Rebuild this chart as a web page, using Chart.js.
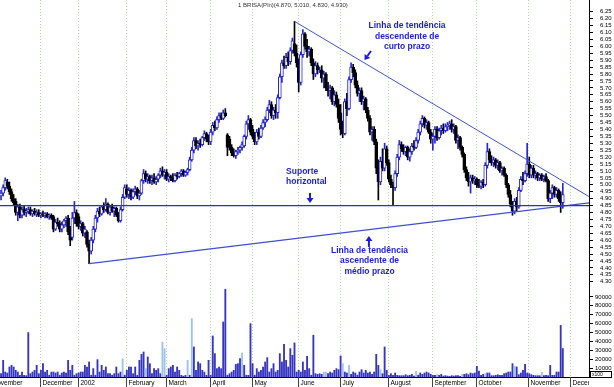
<!DOCTYPE html>
<html>
<head>
<meta charset="utf-8">
<script src="https://cdn.jsdelivr.net/npm/chart.js@4.4.1/dist/chart.umd.min.js"></script>
<style>
  html, body { margin: 0; padding: 0; background: #fff; }
  #wrap { position: relative; width: 614px; height: 387px; overflow: hidden; }
  #chart-price { position: absolute; left: 0; top: 0; }
  #chart-volume { position: absolute; left: 0; top: 288px; }
</style>
</head>
<body>
<div id="wrap">
  <canvas id="chart-price" width="614" height="288"></canvas>
  <canvas id="chart-volume" width="614" height="99"></canvas>
</div>
<script>
// daily BRISA quotes, Nov 2001 -> Nov 2002 (one entry per trading day)
const opens = [
  4.92,4.94,4.98,5.02,4.99,4.95,4.90,4.88,4.80,4.84,4.78,4.82,4.80,4.81,4.82,4.79,4.81,4.79,4.80,
  4.78,4.79,4.78,4.79,4.77,4.78,4.77,4.68,4.73,4.72,4.68,4.71,4.74,4.76,4.66,4.62,4.76,4.80,
  4.77,4.70,4.72,4.65,4.66,4.57,4.52,4.60,4.68,4.76,4.81,4.79,4.84,4.82,4.86,4.80,4.84,4.81,4.83,4.78,4.74,4.82,4.91,
  4.97,4.93,4.96,4.91,4.95,4.97,4.92,4.94,5.03,5.08,5.04,5.06,5.03,5.05,5.02,5.04,5.07,5.10,5.07,
  5.09,5.04,5.06,5.05,5.03,5.07,5.06,5.08,5.10,5.07,5.09,5.11,5.18,5.25,5.32,5.28,5.30,5.29,5.34,5.37,5.33,
  5.31,5.38,5.43,5.41,5.47,5.50,5.48,5.52,5.36,5.33,5.27,5.23,5.21,5.24,5.25,5.27,5.28,5.35,5.44,5.47,
  5.40,5.35,5.31,5.38,5.35,5.41,5.45,5.47,5.54,5.58,5.50,5.54,5.52,5.63,5.78,5.88,5.86,5.92,5.89,5.97,6.02,5.95,
  5.88,5.74,5.94,6.09,6.00,5.96,5.98,5.88,5.80,5.86,5.83,5.83,5.77,5.80,5.70,5.68,5.70,5.60,5.65,5.58,
  5.52,5.40,5.37,5.60,5.55,5.76,5.85,5.81,5.72,5.66,5.68,5.60,5.62,5.54,5.48,5.38,5.40,5.31,5.12,5.02,5.17,5.12,5.26,
  5.16,5.04,5.00,4.98,5.08,5.20,5.29,5.26,5.24,5.27,5.20,5.24,5.28,5.27,5.32,5.38,5.44,5.48,5.43,5.45,5.38,
  5.33,5.35,5.40,5.34,5.39,5.41,5.39,5.42,5.43,5.44,5.40,5.42,5.32,5.34,5.27,5.22,5.11,5.05,5.02,5.05,5.03,
  5.04,5.00,4.99,5.02,5.00,5.14,5.24,5.18,5.16,5.18,5.14,5.16,5.10,5.12,5.07,5.00,4.93,4.86,4.81,4.88,4.84,4.96,5.04,5.03,5.08,
  5.15,5.07,5.12,5.07,5.08,5.05,5.07,5.04,5.06,5.03,4.90,4.94,4.98,4.93,4.96,4.90,4.87,
];
const highs = [
  4.96,5.00,5.05,5.04,5.02,4.97,4.93,4.90,4.86,4.86,4.84,4.85,4.83,4.84,4.84,4.82,4.83,4.82,4.82,
  4.80,4.81,4.80,4.80,4.79,4.79,4.78,4.75,4.76,4.74,4.73,4.75,4.77,4.78,4.70,4.80,4.88,4.82,
  4.79,4.74,4.73,4.70,4.67,4.60,4.62,4.70,4.78,4.83,4.84,4.85,4.87,4.90,4.87,4.85,4.86,4.84,4.84,4.80,4.84,4.93,5.00,
  5.00,4.98,4.97,4.97,4.99,4.98,4.96,5.04,5.11,5.10,5.08,5.07,5.07,5.08,5.06,5.08,5.12,5.13,5.11,
  5.11,5.08,5.07,5.08,5.08,5.09,5.09,5.11,5.11,5.10,5.12,5.20,5.27,5.34,5.34,5.32,5.33,5.35,5.39,5.38,5.36,
  5.40,5.45,5.46,5.49,5.52,5.52,5.54,5.55,5.37,5.35,5.29,5.26,5.25,5.27,5.28,5.31,5.36,5.46,5.50,5.48,
  5.43,5.38,5.40,5.41,5.43,5.47,5.49,5.56,5.61,5.60,5.56,5.58,5.65,5.80,5.90,5.93,5.95,5.96,5.99,6.06,6.18,6.01,
  5.91,5.96,6.12,6.10,6.05,6.00,5.99,5.91,5.89,5.88,5.85,5.86,5.82,5.81,5.74,5.72,5.71,5.68,5.67,5.62,
  5.58,5.46,5.62,5.66,5.78,5.88,5.87,5.83,5.75,5.70,5.70,5.64,5.63,5.56,5.50,5.42,5.42,5.33,5.18,5.20,5.26,5.30,5.28,
  5.18,5.07,5.02,5.10,5.22,5.32,5.31,5.29,5.28,5.28,5.26,5.30,5.32,5.34,5.40,5.46,5.50,5.49,5.47,5.46,5.40,
  5.37,5.42,5.42,5.41,5.43,5.44,5.44,5.45,5.46,5.47,5.44,5.43,5.36,5.35,5.28,5.23,5.13,5.09,5.07,5.07,5.06,
  5.05,5.04,5.03,5.04,5.16,5.30,5.26,5.21,5.20,5.19,5.18,5.17,5.13,5.13,5.08,5.01,4.96,4.88,4.90,4.91,4.98,5.06,5.09,5.10,5.30,
  5.20,5.14,5.14,5.10,5.09,5.08,5.08,5.07,5.08,5.04,4.96,5.00,4.99,4.98,4.97,4.95,5.01,
];
const lows = [
  4.89,4.92,4.96,4.97,4.93,4.88,4.85,4.78,4.74,4.76,4.76,4.78,4.77,4.79,4.78,4.77,4.78,4.77,4.77,
  4.76,4.77,4.76,4.76,4.75,4.75,4.66,4.67,4.70,4.66,4.66,4.69,4.70,4.64,4.56,4.60,4.72,4.70,
  4.68,4.67,4.63,4.62,4.55,4.43,4.50,4.58,4.66,4.73,4.77,4.78,4.80,4.81,4.79,4.78,4.80,4.77,4.77,4.73,4.73,4.81,4.90,
  4.91,4.90,4.89,4.90,4.93,4.90,4.89,4.93,5.01,5.02,5.01,5.01,5.00,5.01,5.00,5.02,5.05,5.06,5.04,
  5.03,5.02,5.03,5.02,5.02,5.04,5.05,5.06,5.06,5.06,5.07,5.10,5.17,5.23,5.26,5.25,5.27,5.28,5.32,5.31,5.29,
  5.29,5.36,5.39,5.40,5.45,5.47,5.47,5.49,5.21,5.25,5.21,5.20,5.19,5.22,5.23,5.25,5.27,5.33,5.40,5.36,
  5.33,5.29,5.29,5.33,5.34,5.40,5.42,5.46,5.52,5.48,5.47,5.48,5.48,5.62,5.74,5.84,5.84,5.86,5.87,5.95,5.93,5.85,
  5.67,5.72,5.92,5.98,5.92,5.93,5.86,5.76,5.78,5.80,5.81,5.74,5.70,5.68,5.64,5.62,5.58,5.57,5.56,5.45,
  5.36,5.34,5.36,5.50,5.54,5.74,5.78,5.70,5.64,5.60,5.58,5.54,5.52,5.46,5.36,5.32,5.29,5.08,4.89,5.00,5.10,5.10,5.14,
  5.02,4.98,4.85,4.96,5.06,5.18,5.24,5.22,5.21,5.18,5.17,5.22,5.25,5.26,5.30,5.36,5.42,5.41,5.40,5.37,5.30,
  5.25,5.30,5.32,5.33,5.36,5.37,5.38,5.39,5.40,5.38,5.37,5.30,5.26,5.25,5.20,5.09,5.03,4.99,4.94,5.01,5.00,
  4.98,4.98,4.97,4.98,4.99,5.12,5.16,5.14,5.13,5.12,5.11,5.09,5.07,5.06,4.98,4.91,4.84,4.78,4.79,4.81,4.83,4.95,5.00,5.02,5.06,
  5.05,5.05,5.05,5.04,5.03,5.03,5.03,5.02,5.02,4.88,4.87,4.90,4.91,4.91,4.88,4.80,4.83,
];
const closes = [
  4.94,4.98,5.03,4.99,4.95,4.90,4.87,4.80,4.84,4.78,4.82,4.80,4.81,4.82,4.79,4.81,4.79,4.80,4.78,
  4.79,4.78,4.79,4.77,4.78,4.76,4.68,4.73,4.72,4.68,4.71,4.74,4.76,4.66,4.60,4.76,4.80,4.72,
  4.70,4.72,4.65,4.68,4.57,4.52,4.60,4.68,4.76,4.81,4.79,4.84,4.82,4.86,4.80,4.84,4.81,4.83,4.78,4.74,4.82,4.91,4.98,
  4.93,4.96,4.91,4.95,4.97,4.92,4.94,5.03,5.08,5.04,5.06,5.03,5.05,5.02,5.04,5.07,5.10,5.07,5.09,
  5.04,5.06,5.05,5.03,5.07,5.06,5.08,5.10,5.07,5.09,5.11,5.18,5.25,5.32,5.28,5.30,5.29,5.34,5.37,5.33,5.31,
  5.38,5.43,5.41,5.47,5.50,5.48,5.52,5.50,5.27,5.27,5.23,5.21,5.24,5.25,5.27,5.29,5.35,5.44,5.47,5.38,
  5.35,5.31,5.38,5.35,5.41,5.45,5.47,5.54,5.58,5.50,5.54,5.52,5.63,5.78,5.88,5.86,5.92,5.89,5.97,6.04,5.95,5.88,
  5.74,5.94,6.09,6.00,5.96,5.98,5.88,5.80,5.86,5.83,5.83,5.77,5.80,5.70,5.68,5.70,5.60,5.65,5.58,5.48,
  5.40,5.37,5.60,5.55,5.76,5.85,5.81,5.72,5.66,5.68,5.60,5.62,5.54,5.48,5.38,5.40,5.31,5.12,5.02,5.17,5.12,5.26,5.16,
  5.04,5.00,4.98,5.08,5.20,5.29,5.26,5.24,5.27,5.20,5.24,5.28,5.27,5.32,5.38,5.44,5.48,5.43,5.45,5.38,5.33,
  5.35,5.40,5.34,5.39,5.41,5.39,5.42,5.43,5.44,5.40,5.42,5.32,5.34,5.27,5.22,5.11,5.05,5.02,5.05,5.03,5.04,
  5.00,4.99,5.02,5.00,5.14,5.24,5.18,5.16,5.18,5.14,5.16,5.10,5.12,5.07,5.00,4.93,4.86,4.81,4.88,4.84,4.96,5.04,5.03,5.08,5.15,
  5.07,5.12,5.07,5.08,5.05,5.07,5.04,5.06,5.03,4.90,4.94,4.98,4.93,4.96,4.90,4.87,4.93,
];
const volumes = [
  3750,18750,5600,4500,11250,13100,11250,7500,5600,1900,
  5600,1900,1500,49900,3750,5600,7500,13100,3750,7500,
  15000,5600,7500,2000,5600,5600,4500,5600,2000,4500,
  5600,4500,18750,7500,13100,2000,3750,4500,5600,5600,
  13100,11250,16900,2000,9400,2000,19500,5600,13100,7500,
  11250,3750,3750,2000,3750,11250,3750,5600,20600,2000,
  7500,11250,11250,3750,11250,1900,18750,25500,28100,9400,
  22500,15000,3750,9400,7500,9400,3750,39400,31900,2000,
  9400,11250,13100,5600,11250,7500,1900,1000,1900,18750,
  2000,65600,33750,7500,16900,15000,7500,5600,1900,18750,
  2000,46100,26250,9400,11250,9400,61900,98600,2000,3750,
  5600,7500,14250,15000,20600,27000,13100,2000,1900,60000,
  15000,2000,9400,5600,7500,11250,16900,21750,5600,9400,
  15000,5600,7500,26250,16900,36750,18750,11250,31900,24400,
  38250,5600,7500,5600,16900,7500,23250,9400,2000,46900,
  3750,3000,3750,3000,5600,5600,3750,5600,4500,7500,
  9400,8250,23600,15000,5600,4500,13100,3000,5600,4500,
  2000,5600,8250,4500,7500,4500,5600,3000,5600,25500,
  13100,8250,3750,33750,7500,1900,3750,1900,4500,1900,
  1500,1500,1500,2600,1500,1900,3000,1100,6400,2000,
  4500,3000,4500,5600,4500,3000,1900,1900,2600,1900,
  3000,1100,1500,1100,750,1500,1100,1500,1500,750,
  3000,3000,3750,2600,4500,3750,4500,12000,6750,1900,
  3000,3750,4500,4500,1500,1500,1900,2600,1900,1900,
  3750,4500,5600,5600,15000,12000,11250,2600,4500,7500,
  14250,4500,3750,2600,1900,1500,1500,1500,5250,1500,
  1900,1500,13100,1900,1900,5600,5600,58000,32000,
];
// volume bars that show up lighter in the original
const lightVolume = [58, 69, 77, 78, 89, 91, 115, 154, 155, 163, 166, 181, 198, 208, 220, 231, 245, 258];

// first trading day of each month (index into the arrays above)
const monthStarts = [-5, 19, 37, 60, 79, 100, 120, 142, 162, 185, 206, 227, 252, 272];
const monthLabels = ["November", "December", "2002", "February", "March", "April", "May", "June",
  "July", "August", "September", "October", "November", "December"];

const priceTicks = [4.30,4.35,4.40,4.45,4.50,4.55,4.60,4.65,4.70,4.75,4.80,4.85,4.90,4.95,
  5.00,5.05,5.10,5.15,5.20,5.25,5.30,5.35,5.40,5.45,5.50,5.55,5.60,5.65,5.70,5.75,5.80,5.85,
  5.90,5.95,6.00,6.05,6.10,6.15,6.20,6.25];
const volumeTicks = [10000, 20000, 30000, 40000, 50000, 60000, 70000, 80000, 90000];

// drawn lines, in (day index, price)
const supportLine = [{ x: -0.5, y: 4.85 }, { x: 280.5, y: 4.85 }];
const downTrend = [{ x: 140, y: 6.18 }, { x: 281, y: 4.91 }];
const upTrend = [{ x: 42, y: 4.43 }, { x: 281, y: 4.87 }];

const titleText = "1 BRISA(Pln)(4.870, 5.010, 4.830, 4.930)";
const noteBlocks = [
  { lines: ["Linha de tendência", "descendente de", "curto prazo"], x: 193.7, y: 6.147, align: "center" },
  { lines: ["Suporte", "horizontal"], x: 136, y: 5.094, align: "left" },
  { lines: ["Linha de tendência", "ascendente de", "médio prazo"], x: 175.8, y: 4.524, align: "center" },
];
const noteArrows = [
  { from: [176.5, 5.966], to: [173.4, 5.901] },
  { from: [147.4, 4.941], to: [147.4, 4.868] },
  { from: [175.5, 4.551], to: [175.5, 4.630] },
];

const UP = "#2626d8";
const UP_FILL = "#ffffff";
const DOWN = "#000000";
const VOL = "#3535c2";
const VOL_LIGHT = "#9cc3ee";
const NOTE = "#1c1cdc";
const FONT = '"Liberation Sans", Arial, sans-serif';
const X_MIN = -0.5;
const X_MAX = 280.5;

const idx = closes.map((_, i) => i);
const isUp = (i) => closes[i] >= opens[i];

const monthGrid = {
  id: "monthGrid",
  beforeDatasetsDraw(chart) {
    const { ctx, chartArea, scales: { x } } = chart;
    ctx.save();
    ctx.strokeStyle = "#b4d8ae";
    ctx.lineWidth = 1;
    ctx.setLineDash([1, 2]);
    monthStarts.slice(1).forEach((m) => {
      const px = Math.round(x.getPixelForValue(m - 0.5)) + 0.5;
      ctx.beginPath();
      ctx.moveTo(px, chartArea.top);
      ctx.lineTo(px, chartArea.bottom);
      ctx.stroke();
    });
    ctx.restore();
  },
};

function drawArrow(ctx, x1, y1, x2, y2) {
  const a = Math.atan2(y2 - y1, x2 - x1);
  const hl = 5, hw = 3.5;
  const bx = x2 - hl * Math.cos(a), by = y2 - hl * Math.sin(a);
  ctx.beginPath();
  ctx.moveTo(x1, y1);
  ctx.lineTo(bx, by);
  ctx.stroke();
  ctx.beginPath();
  ctx.moveTo(x2, y2);
  ctx.lineTo(bx + hw * Math.sin(a), by - hw * Math.cos(a));
  ctx.lineTo(bx - hw * Math.sin(a), by + hw * Math.cos(a));
  ctx.closePath();
  ctx.fill();
}

const notes = {
  id: "notes",
  afterDatasetsDraw(chart) {
    const { ctx, scales: { x, y } } = chart;
    ctx.save();
    ctx.fillStyle = "#333";
    ctx.font = "6px " + FONT;
    ctx.textAlign = "left";
    ctx.textBaseline = "middle";
    ctx.fillText(titleText, x.getPixelForValue(113.1), y.getPixelForValue(6.298));

    ctx.fillStyle = NOTE;
    ctx.strokeStyle = NOTE;
    ctx.font = "bold 8.5px " + FONT;
    noteBlocks.forEach((b) => {
      ctx.textAlign = b.align;
      const px = x.getPixelForValue(b.x);
      const py = y.getPixelForValue(b.y);
      b.lines.forEach((t, k) => ctx.fillText(t, px, py + k * 10.3));
    });
    ctx.lineWidth = 2;
    noteArrows.forEach((a) => {
      drawArrow(ctx, x.getPixelForValue(a.from[0]), y.getPixelForValue(a.from[1]),
        x.getPixelForValue(a.to[0]), y.getPixelForValue(a.to[1]));
    });
    ctx.restore();
  },
};

const monthAxis = {
  id: "monthAxis",
  afterDraw(chart) {
    const { ctx, chartArea, scales: { x } } = chart;
    const b = chartArea.bottom;
    ctx.save();
    ctx.strokeStyle = "#000";
    ctx.lineWidth = 1;
    ctx.beginPath();
    ctx.moveTo(chartArea.left, b + 0.5);
    ctx.lineTo(chartArea.right, b + 0.5);
    ctx.stroke();
    // little "x100" box under the volume scale
    ctx.strokeRect(chartArea.right + 1.5, b - 5.5, 21, 6);
    ctx.fillStyle = "#000";
    ctx.font = "5px " + FONT;
    ctx.textBaseline = "middle";
    ctx.fillText("x100", chartArea.right + 3, b - 2.5);

    ctx.beginPath();
    ctx.rect(0, b, chartArea.right, 12);
    ctx.clip();
    ctx.font = "6.5px " + FONT;
    ctx.strokeStyle = "#444";
    monthStarts.forEach((m, k) => {
      const px = Math.round(x.getPixelForValue(m - 0.5)) + 0.5;
      ctx.beginPath();
      ctx.moveTo(px, b);
      ctx.lineTo(px, b + 10);
      ctx.stroke();
      ctx.fillText(monthLabels[k], px + 2, b + 6.5);
    });
    ctx.restore();
  },
};

function fixRightAxis(scale) {
  scale.width = 25;
  scale.paddingTop = 0;
  scale.paddingBottom = 0;
}

const xScale = { type: "linear", min: X_MIN, max: X_MAX, offset: false, display: false };

new Chart(document.getElementById("chart-price"), {
  type: "bar",
  data: {
    datasets: [
      {
        type: "line", data: supportLine, borderColor: "#3030b4", borderWidth: 1.3,
        pointRadius: 0, order: 0,
      },
      {
        type: "line", data: downTrend, borderColor: "#3f55d6", borderWidth: 1,
        pointRadius: 0, order: 0,
      },
      {
        type: "line", data: upTrend, borderColor: "#3f4fd0", borderWidth: 1.2,
        pointRadius: 0, order: 0,
      },
      {
        data: idx.map((i) => ({ x: i, y: [Math.min(opens[i], closes[i]), Math.max(opens[i], closes[i])] })),
        grouped: false, barThickness: 3, order: 1,
        backgroundColor: (c) => (isUp(c.dataIndex) ? UP_FILL : DOWN),
        borderColor: (c) => (isUp(c.dataIndex) ? UP : DOWN),
        borderWidth: 1, borderSkipped: false,
      },
      {
        data: idx.map((i) => ({ x: i, y: [lows[i], highs[i]] })),
        grouped: false, barThickness: 1, order: 2,
        backgroundColor: (c) => (isUp(c.dataIndex) ? UP : DOWN),
        borderWidth: 0,
      },
    ],
  },
  options: {
    responsive: false,
    animation: false,
    layout: { padding: 0 },
    plugins: { legend: { display: false }, tooltip: { enabled: false } },
    scales: {
      x: xScale,
      y: {
        position: "right", min: 4.2545, max: 6.3345,
        afterBuildTicks: (s) => { s.ticks = priceTicks.map((v) => ({ value: v })); },
        afterFit: fixRightAxis,
        grid: { drawOnChartArea: false, tickLength: 4, tickColor: "#000" },
        border: { color: "#000", width: 1 },
        ticks: {
          color: "#000", font: { size: 6, family: FONT }, padding: 7, autoSkip: false,
          callback: (v) => v.toFixed(2),
        },
      },
    },
  },
  plugins: [monthGrid, notes],
});

new Chart(document.getElementById("chart-volume"), {
  type: "bar",
  data: {
    datasets: [{
      data: idx.map((i) => ({ x: i, y: volumes[i] })),
      barThickness: 1.2,
      backgroundColor: (c) => (lightVolume.includes(c.dataIndex) ? VOL_LIGHT : VOL),
      borderWidth: 0,
    }],
  },
  options: {
    responsive: false,
    animation: false,
    layout: { padding: { bottom: 10 } },
    plugins: { legend: { display: false }, tooltip: { enabled: false } },
    scales: {
      x: xScale,
      y: {
        position: "right", min: 0, max: 100000,
        afterBuildTicks: (s) => { s.ticks = volumeTicks.map((v) => ({ value: v })); },
        afterFit: fixRightAxis,
        grid: { drawOnChartArea: false, tickLength: 4, tickColor: "#000" },
        border: { color: "#000", width: 1 },
        ticks: {
          color: "#000", font: { size: 6, family: FONT }, padding: 2, autoSkip: false,
          callback: (v) => String(v),
        },
      },
    },
  },
  plugins: [monthGrid, monthAxis],
});
</script>
</body>
</html>
